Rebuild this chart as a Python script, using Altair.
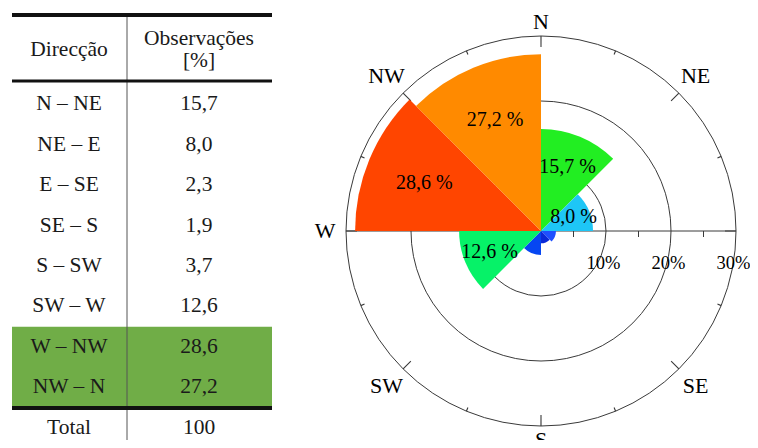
import math
import altair as alt
import pandas as pd

# ---------------- data ----------------
directions = ["N – NE", "NE – E", "E – SE", "SE – S", "S – SW", "SW – W", "W – NW", "NW – N"]
observations = [15.7, 8.0, 2.3, 1.9, 3.7, 12.6, 28.6, 27.2]
sector_colors = ["#22EE22", "#1EC6F6", "#1F50FF", "#0A2AD8", "#0646F2", "#06F268", "#FF4500", "#FF8A00"]
highlighted = ["W – NW", "NW – N"]
total_label = "Total"
total_value = "100"
compass_labels = ["N", "NE", "E", "SE", "S", "SW", "W", "NW"]
ring_values = [10, 20, 30]
axis_minor_ticks = [5, 15, 25]
header_left = "Direcção"
header_right = ["Observações", "[%]"]

# ---------------- layout ----------------
CX, CY = 533, 223          # centre of the rose (chart coords)
R = 195                    # pixel radius of 30 %
RMAX = 30
PX_PER = R / RMAX
SERIF = "Liberation Serif, Times New Roman, Times, serif"

theta_scale = alt.Scale(domain=[0, 360], range=[0, 2 * math.pi])
radius_scale = alt.Scale(type="linear", domain=[0, RMAX], range=[0, R], zero=True)
x_rose = alt.Scale(domain=[-RMAX, RMAX], range=[CX - R, CX + R])

sec = pd.DataFrame({
    "dir": directions,
    "value": observations,
    "color": sector_colors,
    "start": [i * 45 for i in range(len(directions))],
})
sec["end"] = sec["start"] + 45
sec["mid"] = sec["start"] + 22.5

rings = pd.DataFrame({"r": ring_values, "t0": 0, "t1": 360, "ang": 90})
comp = pd.DataFrame({"lab": compass_labels, "ang": [i * 45 for i in range(len(compass_labels))]})
minor_ang = pd.DataFrame({"ang": [22.5 + i * 45 for i in range(8)]})
etick = pd.DataFrame({"v": axis_minor_ticks})
dummy = pd.DataFrame({"k": [0]})

# ---------------- rose ----------------
grid = alt.Chart(rings).mark_arc(filled=False, stroke="#3a3a3a", strokeWidth=1).encode(
    theta=alt.Theta("t0:Q", scale=theta_scale, stack=False),
    theta2="t1:Q",
    radius=alt.Radius("r:Q", scale=radius_scale),
    x=alt.value(CX), y=alt.value(CY),
)

hline = alt.Chart(pd.DataFrame({"a": [-RMAX], "b": [RMAX]})).mark_rule(
    color="#3a3a3a", strokeWidth=1).encode(
    x=alt.X("a:Q", scale=x_rose, axis=None), x2="b:Q", y=alt.value(CY))

eticks = alt.Chart(etick).mark_rule(color="#3a3a3a", strokeWidth=1).encode(
    x=alt.X("v:Q", scale=x_rose, axis=None), y=alt.value(CY), y2=alt.value(CY + 6))


def ring_ticks(df, length_px):
    return alt.Chart(df).transform_calculate(
        t0="datum.ang - 0.17", t1="datum.ang + 0.17",
        rin=f"{RMAX} - {length_px / PX_PER}", rout=f"{RMAX}"
    ).mark_arc(color="#3a3a3a").encode(
        theta=alt.Theta("t0:Q", scale=theta_scale, stack=False),
        theta2="t1:Q",
        radius=alt.Radius("rout:Q", scale=radius_scale),
        radius2="rin:Q",
        x=alt.value(CX), y=alt.value(CY),
    )


major_ticks = ring_ticks(comp, 11)
minor_ticks = ring_ticks(minor_ang, 4)

sectors = alt.Chart(sec).mark_arc().encode(
    theta=alt.Theta("start:Q", scale=theta_scale, stack=False),
    theta2="end:Q",
    radius=alt.Radius("value:Q", scale=radius_scale),
    color=alt.Color("color:N", scale=None),
    x=alt.value(CX), y=alt.value(CY),
)

sector_labels = alt.Chart(sec).transform_filter("datum.value >= 5").transform_calculate(
    rl="datum.value * 0.68",
    txt="replace(format(datum.value, '.1f'), '.', ',') + ' %'",
).mark_text(font=SERIF, fontSize=20, color="#000", align="center", baseline="middle").encode(
    theta=alt.Theta("mid:Q", scale=theta_scale, stack=False),
    radius=alt.Radius("rl:Q", scale=radius_scale),
    text="txt:N",
    x=alt.value(CX), y=alt.value(CY),
)

# label distance: slightly closer at N/S, slightly farther on the diagonals
compass_text = alt.Chart(comp).transform_calculate(
    rpx="216 - 7 * abs(cos(datum.ang * PI / 180)) + 7.5 * abs(sin(datum.ang * PI / 90))"
).mark_text(
    font=SERIF, fontSize=22, color="#000", align="center", baseline="middle").encode(
    theta=alt.Theta("ang:Q", scale=theta_scale, stack=False),
    radius=alt.Radius("rpx:Q", scale=None),
    text="lab:N",
    x=alt.value(CX), y=alt.value(CY),
)

pct_text = alt.Chart(rings).transform_calculate(txt="datum.r + '%'").mark_text(
    font=SERIF, fontSize=18.5, color="#000", align="center", baseline="middle",
    dy=32, dx=-2.5).encode(
    theta=alt.Theta("ang:Q", scale=theta_scale, stack=False),
    radius=alt.Radius("r:Q", scale=radius_scale),
    text="txt:N",
    x=alt.value(CX), y=alt.value(CY),
)

# ---------------- table ----------------
rows = pd.DataFrame({"row": directions + [total_label],
                     "val": observations + [None]})
rows["vtxt"] = [f"{v:.1f}".replace(".", ",") for v in observations] + [total_value]
rows["hl"] = rows["row"].isin(highlighted)
row_order = directions + [total_label]
y_tab = alt.Y("row:N", scale=alt.Scale(type="band", domain=row_order, range=[76, 440],
                                       paddingInner=0, paddingOuter=0), axis=None)

TFONT = SERIF
TSIZE = 21.5
green = alt.Chart(rows).transform_filter("datum.hl").mark_rect(color="#70AD47").encode(
    y=y_tab, x=alt.value(4), x2=alt.value(264))
left_col = alt.Chart(rows).mark_text(font=TFONT, fontSize=TSIZE, color="#1a1a1a",
                                     baseline="middle").encode(
    y=y_tab, x=alt.value(61), text="row:N")
right_col = alt.Chart(rows).mark_text(font=TFONT, fontSize=TSIZE, color="#1a1a1a",
                                      baseline="middle").encode(
    y=y_tab, x=alt.value(191), text="vtxt:N")

hdr = pd.DataFrame({"t": [header_left] + header_right})
hdr_l = alt.Chart(hdr.iloc[[0]]).mark_text(font=TFONT, fontSize=TSIZE, color="#1a1a1a",
                                           baseline="middle").encode(
    x=alt.value(61), y=alt.value(42), text="t:N")
hdr_r1 = alt.Chart(hdr.iloc[[1]]).mark_text(font=TFONT, fontSize=TSIZE, color="#1a1a1a",
                                            baseline="middle").encode(
    x=alt.value(191), y=alt.value(31), text="t:N")
hdr_r2 = alt.Chart(hdr.iloc[[2]]).mark_text(font=TFONT, fontSize=TSIZE, color="#1a1a1a",
                                            baseline="middle").encode(
    x=alt.value(191), y=alt.value(53), text="t:N")

def hrule(y, w):
    return alt.Chart(dummy).mark_rule(color="#111", strokeWidth=w).encode(
        x=alt.value(4), x2=alt.value(264), y=alt.value(y))

vline = alt.Chart(dummy).mark_rule(color="#555", strokeWidth=1).encode(
    x=alt.value(119), y=alt.value(7), y2=alt.value(440))

chart = alt.layer(
    green, vline, hrule(7, 4), hrule(73, 3), hrule(400, 4),
    hdr_l, hdr_r1, hdr_r2, left_col, right_col,
    grid, hline, major_ticks, minor_ticks, eticks,
    sectors, sector_labels, compass_text, pct_text,
).properties(
    width=742, height=432, padding=0,
    autosize=alt.AutoSizeParams(type="none"),
).configure_view(stroke=None)

chart.save("out.html", embed_options={"renderer": "svg", "actions": False})
